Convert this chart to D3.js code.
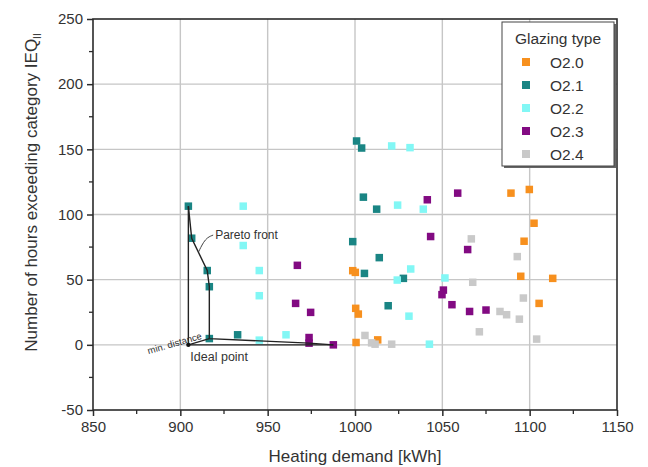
<!DOCTYPE html>
<html>
<head>
<meta charset="utf-8">
<script src="https://cdn.jsdelivr.net/npm/d3@7/dist/d3.min.js"></script>
<style>
  html, body { margin: 0; padding: 0; background: #fff; }
  svg { display: block; font-family: "Liberation Sans", Arial, sans-serif; }
</style>
</head>
<body>
<svg id="chart" width="648" height="467"></svg>
<script>
// Axis ticks
const xTicks = [850, 900, 950, 1000, 1050, 1100, 1150];
const yTicks = [-50, 0, 50, 100, 150, 200, 250];
const xMinor = [875, 925, 975, 1025, 1075, 1125];
const yMinor = [-25, 25, 75, 125, 175, 225];

// Glazing types and their colours
const glazingTypes = ["O2.0", "O2.1", "O2.2", "O2.3", "O2.4"];
const glazingColors = ["#f7901e", "#1a8584", "#82f7f5", "#820a82", "#c9c9c9"];

// Heating demand [kWh] / hours exceeding IEQ_II per variant
const o20 = [[998.7, 56.9], [1000.2, 55.6], [1000.4, 28], [1001.9, 23.6], [1013, 3.8], [1000.6, 1.8],
             [1089.3, 116.4], [1099.8, 119.2], [1102.5, 93.3], [1096.8, 79.5], [1094.9, 52.6],
             [1113.2, 51], [1105.4, 31.8]];
const o21 = [[904.6, 106.4], [906.5, 81.8], [915.4, 57], [916.6, 44.6], [916.6, 4.8], [932.8, 7.7],
             [1000.9, 156.4], [1003.8, 151], [1004.8, 113.3], [1012.4, 104.1], [998.7, 79.2],
             [1013.9, 66.9], [1005.4, 54.8], [1027.7, 51], [1019, 30]];
const o22 = [[936, 106.4], [936, 76.2], [945.2, 57], [945.2, 37.7], [945.2, 3.6], [960.5, 7.7],
             [1021, 152.6], [1031.5, 151.3], [1024.4, 107.2], [1039.1, 104.1], [1031.9, 58.2],
             [1024.2, 49.7], [1030.9, 22], [1042.6, 0.5], [1051.5, 51.3]];
const o23 = [[967, 61], [966, 31.8], [974.6, 24.9], [973.7, 5.6], [973.7, 1.3], [987.6, 0],
             [1041.4, 111.3], [1043.3, 83.1], [1058.8, 116.4], [1064.5, 73.1], [1050.6, 42],
             [1049.8, 38.5], [1055.5, 30.8], [1065.6, 25.6], [1075, 26.7]];
const o24 = [[1005.7, 7.2], [1009.5, 1.5], [1011.5, 0.5], [1021, 0.5], [1066.6, 81.3],
             [1092.9, 67.7], [1067.4, 48], [1096.4, 35.9], [1083, 25.6], [1086.8, 23.1],
             [1094.1, 19.7], [1071.2, 10], [1104, 4.4]];
const seriesData = [o20, o21, o22, o23, o24];

// Pareto front, ideal point and the closest solution
const paretoFront = [[904.6, 106.4], [906.5, 81.8], [915.4, 57], [916.6, 44.6], [916.6, 4.8],
                     [973.7, 1.3], [987.6, 0]];
const idealPoint = [904.6, 0];
const closestPoint = [916.6, 4.8];
const paretoLeader = [[918.8, 84.2], [914.3, 81.9], [910.4, 71.2]];

const svg = d3.select("#chart");
const margin = { left: 93, right: 617, top: 19, bottom: 410 };

const x = d3.scaleLinear().domain([850, 1150]).range([margin.left, margin.right]);
const y = d3.scaleLinear().domain([-50, 250]).range([margin.bottom, margin.top]);

const axisColor = "#2b2b2b";
const textColor = "#333";
const plainNumber = d => String(d);

// Grid
const grid = svg.append("g");
grid.selectAll("line.gx").data(xTicks.slice(1, -1)).join("line")
  .attr("x1", d => x(d)).attr("x2", d => x(d))
  .attr("y1", margin.top).attr("y2", margin.bottom)
  .attr("stroke", "#c6c6c6").attr("stroke-width", 1.4);
grid.selectAll("line.gy").data(yTicks.slice(1, -1)).join("line")
  .attr("y1", d => y(d)).attr("y2", d => y(d))
  .attr("x1", margin.left).attr("x2", margin.right)
  .attr("stroke", "#c6c6c6").attr("stroke-width", 1.4);

// Axes
const xAxis = d3.axisBottom(x).tickValues(xTicks).tickSize(6).tickPadding(5).tickFormat(plainNumber);
const yAxis = d3.axisLeft(y).tickValues(yTicks).tickSize(6).tickPadding(4).tickFormat(plainNumber);

const gx = svg.append("g").attr("transform", `translate(0,${margin.bottom})`).call(xAxis);
const gy = svg.append("g").attr("transform", `translate(${margin.left},0)`).call(yAxis);
[gx, gy].forEach(g => {
  g.select(".domain").remove();
  g.selectAll(".tick line").attr("stroke", axisColor).attr("stroke-width", 1.5);
  g.selectAll(".tick text").attr("fill", textColor).style("font-size", "15px")
    .style("font-family", "'Liberation Sans', Arial, sans-serif");
});

svg.append("g").selectAll("line").data(xMinor).join("line")
  .attr("x1", d => x(d)).attr("x2", d => x(d))
  .attr("y1", margin.bottom).attr("y2", margin.bottom + 4)
  .attr("stroke", axisColor).attr("stroke-width", 1.3);
svg.append("g").selectAll("line").data(yMinor).join("line")
  .attr("y1", d => y(d)).attr("y2", d => y(d))
  .attr("x1", margin.left).attr("x2", margin.left - 4)
  .attr("stroke", axisColor).attr("stroke-width", 1.3);

// Frame
svg.append("rect")
  .attr("x", margin.left).attr("y", margin.top)
  .attr("width", margin.right - margin.left).attr("height", margin.bottom - margin.top)
  .attr("fill", "none").attr("stroke", axisColor).attr("stroke-width", 1.6);

// Scatter points
const sq = 7.5;
seriesData.forEach((data, i) => {
  svg.append("g").selectAll("rect").data(data).join("rect")
    .attr("x", d => x(d[0]) - sq / 2).attr("y", d => y(d[1]) - sq / 2)
    .attr("width", sq).attr("height", sq)
    .attr("fill", glazingColors[i]);
});

// Pareto front and construction lines
const line = d3.line().x(d => x(d[0])).y(d => y(d[1]));
const lineColor = "#222";
svg.append("path").datum(paretoFront).attr("d", line)
  .attr("fill", "none").attr("stroke", lineColor).attr("stroke-width", 1.4);
svg.append("path").datum([paretoFront[0], idealPoint, paretoFront[paretoFront.length - 1]]).attr("d", line)
  .attr("fill", "none").attr("stroke", lineColor).attr("stroke-width", 1.4);
svg.append("path").datum([idealPoint, closestPoint]).attr("d", line)
  .attr("fill", "none").attr("stroke", lineColor).attr("stroke-width", 1.2);
svg.append("path").datum(paretoLeader).attr("d", d3.line().curve(d3.curveBasis).x(d => x(d[0])).y(d => y(d[1])))
  .attr("fill", "none").attr("stroke", "#444").attr("stroke-width", 1);
svg.append("circle").attr("cx", x(idealPoint[0])).attr("cy", y(idealPoint[1]))
  .attr("r", 2.2).attr("fill", "#111");

// Annotations
svg.append("text").attr("x", x(paretoLeader[0][0]) + 2).attr("y", y(paretoLeader[0][1]) + 4)
  .attr("fill", textColor).style("font-size", "12px").text("Pareto front");
svg.append("text").attr("x", x(idealPoint[0]) + 2).attr("y", y(idealPoint[1]) + 16)
  .attr("fill", textColor).style("font-size", "12.5px").text("Ideal point");
svg.append("text")
  .attr("transform", `translate(${x(idealPoint[0]) + 14},${y(idealPoint[1]) - 6}) rotate(-16)`)
  .attr("text-anchor", "end").attr("fill", textColor).style("font-size", "9.5px").text("min. distance");

// Axis titles
svg.append("text").attr("x", (margin.left + margin.right) / 2).attr("y", 462)
  .attr("text-anchor", "middle").attr("fill", textColor).style("font-size", "17px")
  .text("Heating demand [kWh]");
const yt = svg.append("text")
  .attr("transform", `translate(37,${(margin.top + margin.bottom) / 2 - 22}) rotate(-90)`)
  .attr("text-anchor", "middle").attr("fill", textColor).style("font-size", "17px");
yt.append("tspan").text("Number of hours exceeding category IEQ");
yt.append("tspan").attr("dy", 4).style("font-size", "10px").text("II");

// Legend
const lg = svg.append("g");
lg.append("rect").attr("x", 504).attr("y", 24).attr("width", 112).attr("height", 144).attr("fill", "#666");
lg.append("rect").attr("x", 502).attr("y", 22).attr("width", 112).attr("height", 144)
  .attr("fill", "#fff").attr("stroke", "#444").attr("stroke-width", 1);
lg.append("text").attr("x", 558).attr("y", 44).attr("text-anchor", "middle")
  .attr("fill", textColor).style("font-size", "15.5px").text("Glazing type");
glazingTypes.forEach((t, i) => {
  const cy = 62 + i * 23;
  lg.append("rect").attr("x", 526 - 4).attr("y", cy - 4).attr("width", 8).attr("height", 8)
    .attr("fill", glazingColors[i]);
  lg.append("text").attr("x", 550).attr("y", cy + 5.5)
    .attr("fill", textColor).style("font-size", "15.5px").text(t);
});
</script>
</body>
</html>
